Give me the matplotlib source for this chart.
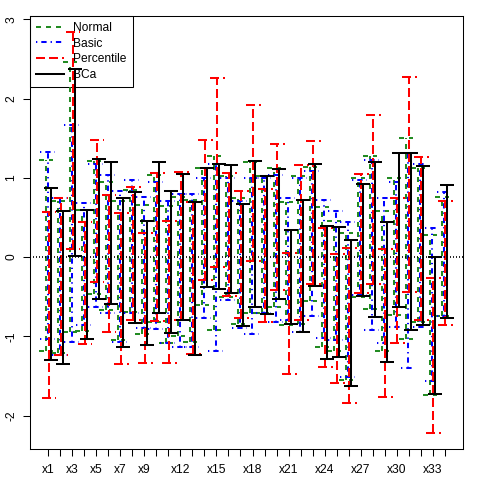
import numpy as np
import matplotlib
matplotlib.use("Agg")
import matplotlib.pyplot as plt

plt.rcParams['font.family'] = ['Liberation Sans', 'DejaVu Sans']
plt.rcParams['lines.scale_dashes'] = False

labels = ['x%d' % i for i in range(1, 35)]
shown = ['x1', 'x3', 'x5', 'x7', 'x9', 'x12', 'x15', 'x18', 'x21', 'x24', 'x27', 'x30', 'x33']

# interval ends, one entry per variable x1..x34
normal_lo = [-1.19, -1.21, -0.95, -0.93, -0.47, -0.67, -1.05, -0.69, -0.97, -0.82, -1.09, -1.00,
             -1.07, -0.60, -0.92, -0.50, -0.84, -0.71, -0.71, -0.63, -0.86, -0.85, -0.56, -1.14,
             -1.19, -1.55, -0.50, -0.66, -1.19, -0.73, -1.03, -0.82, -1.74, -0.75]
normal_hi = [1.23, 0.71, 2.46, 0.60, 1.21, 0.95, 0.71, 0.85, 0.66, 1.04, 0.64, 0.76,
             0.72, 1.12, 1.28, 1.02, 0.75, 1.20, 1.02, 1.12, 0.70, 1.02, 1.14, 0.63,
             0.45, 0.30, 1.00, 1.27, 0.58, 1.00, 1.50, 1.12, 0.28, 0.76]
basic_lo = [-1.03, -1.24, -1.07, -0.86, -0.63, -0.70, -1.07, -0.70, -0.90, -0.91, -1.09, -1.13,
            -1.13, -0.77, -1.19, -0.54, -0.89, -0.97, -0.70, -0.82, -0.80, -0.95, -0.75, -1.02,
            -1.05, -1.51, -0.48, -0.92, -1.09, -0.88, -1.40, -0.88, -1.57, -0.75]
basic_hi = [1.32, 0.74, 1.67, 0.68, 1.18, 1.04, 0.83, 0.97, 0.76, 0.95, 0.71, 0.79,
            0.79, 1.00, 1.18, 1.00, 0.71, 1.00, 1.00, 1.04, 0.74, 1.00, 1.08, 0.72,
            0.58, 0.44, 0.97, 1.22, 0.75, 0.95, 1.31, 1.17, 0.37, 0.82]
perc_lo = [-1.78, -1.23, 0.10, -1.10, -0.31, -0.95, -1.35, -0.79, -1.34, -0.81, -1.34, -0.80,
           -1.22, -0.29, -0.12, -0.49, -0.77, -0.05, -0.82, -0.42, -1.47, -0.79, -0.34, -1.39,
           -1.59, -1.84, -0.45, -0.34, -1.76, -1.09, -0.44, -0.79, -2.22, -0.86]
perc_hi = [0.57, 0.75, 2.84, 0.44, 1.48, 0.78, 0.55, 0.88, 0.31, 1.06, 0.46, 1.07,
           0.70, 1.48, 2.26, 1.06, 0.83, 1.92, 0.86, 1.43, 0.05, 1.16, 1.47, 0.37,
           0.04, 0.12, 1.05, 1.79, 0.10, 0.75, 2.27, 1.26, -0.27, 0.71]
bca_lo = [-1.30, -1.35, 0.01, -1.03, -0.53, -0.59, -1.14, -0.83, -1.11, -0.71, -0.96, -0.79,
          -1.24, -0.38, -0.40, -0.45, -0.87, -0.63, -0.72, -0.53, -0.85, -0.95, -0.37, -1.29,
          -1.26, -1.63, -0.49, -0.76, -1.32, -0.63, -0.92, -0.86, -1.73, -0.77]
bca_hi = [0.87, 0.58, 2.37, 0.60, 1.24, 1.20, 0.74, 0.82, 0.45, 1.20, 0.83, 1.05,
          0.70, 1.13, 1.18, 1.16, 0.67, 1.21, 1.02, 1.11, 0.34, 0.72, 1.18, 0.39,
          0.38, 0.22, 0.92, 1.20, 0.44, 1.31, 1.31, 1.15, 0.00, 0.91]

px = 0.72  # points per pixel at dpi 100
lw = 1.45

fig = plt.figure(figsize=(4.8, 4.8), dpi=100)
ax = fig.add_axes([30 / 480, 31 / 480, 433 / 480, 433 / 480])

pos = np.arange(1, len(labels) + 1)
methods = [
    ('Normal', normal_lo, normal_hi, '#228B22', (0, (5 * px, 5 * px)), -0.2),
    ('Basic', basic_lo, basic_hi, 'blue', (0, (1.3 * px, 4 * px, 5.3 * px, 4 * px)), -0.07),
    ('Percentile', perc_lo, perc_hi, 'red', (0, (9 * px, 4 * px)), 0.07),
    ('BCa', bca_lo, bca_hi, 'black', '-', 0.2),
]

cap = 0.6
for name, lo, hi, col, ls, off in methods:
    x = pos + off
    ax.vlines(x, lo, hi, colors=col, linestyles=[ls], linewidth=lw, zorder=3)
    ax.hlines(lo, x - cap, x + cap, colors=col, linestyles=[ls], linewidth=lw, zorder=3)
    ax.hlines(hi, x - cap, x + cap, colors=col, linestyles=[ls], linewidth=lw, zorder=3)
    ax.plot([], [], color=col, linestyle=ls, linewidth=lw, label=name)

ax.axhline(0, color='black', linestyle=(0, (1 * px, 2 * px)), linewidth=1.2, zorder=4)

allv = normal_lo + normal_hi + basic_lo + basic_hi + perc_lo + perc_hi + bca_lo + bca_hi
ymin, ymax = min(allv), max(allv)
pad = 0.04 * (ymax - ymin)
ax.set_ylim(ymin - pad, ymax + pad)
ax.set_xlim(0.8 - 0.04 * 33.4, 34.2 + 0.04 * 33.4)

ax.set_yticks(range(-2, 4))
ax.set_yticklabels([str(v) for v in range(-2, 4)], rotation=90, va='center', fontsize=8.64)
ax.set_xticks(pos)
ax.set_xticklabels([l if l in shown else '' for l in labels], fontsize=8.64)
ax.tick_params(direction='out', length=7 * px, width=0.75)
ax.tick_params(axis='x', pad=6)
ax.tick_params(axis='y', pad=4)
for s in ax.spines.values():
    s.set_linewidth(0.75)

leg = ax.legend(loc='upper left', borderaxespad=0, fancybox=False, edgecolor='black',
                facecolor='none', framealpha=1, fontsize=8.64, handlelength=2.3,
                handletextpad=0.8, labelspacing=0.3, borderpad=0.5)
leg.get_frame().set_linewidth(0.75)
leg.set_zorder(1)

fig.savefig('out.png', dpi=100)
